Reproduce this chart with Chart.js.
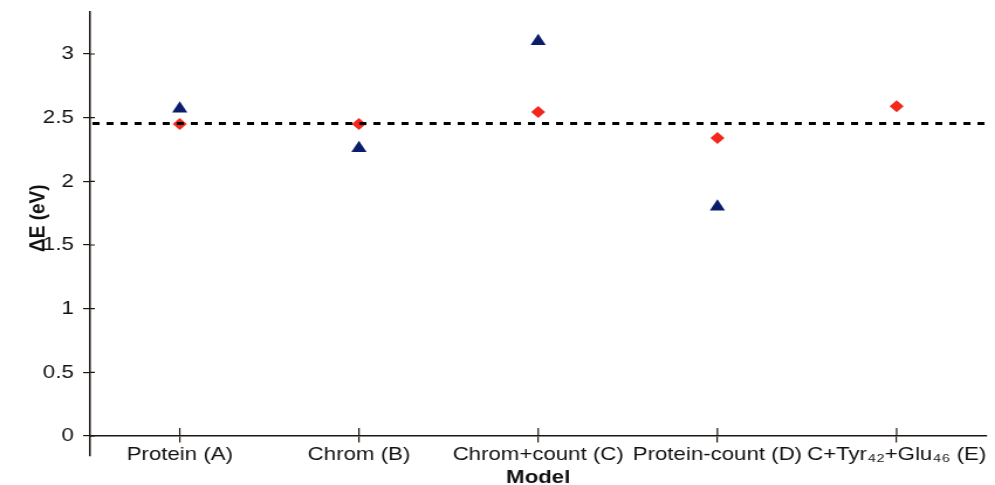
<!DOCTYPE html>
<html>
<head>
<meta charset="utf-8">
<script src="https://cdn.jsdelivr.net/npm/chart.js@4"></script>
<style>
    html, body { margin: 0; padding: 0; background: #fff; overflow: hidden; }
    /* the source figure is stretched sideways, so the canvas is too */
    #chart { display: block; transform: scaleX(1.1706); transform-origin: 0 0; }
</style>
</head>
<body>
<canvas id="chart" width="850" height="485"></canvas>
<script>
// Values
const models = ['Protein (A)', 'Chrom (B)', 'Chrom+count (C)', 'Protein-count (D)', 'C+Tyr\u2084\u2082+Glu\u2084\u2086 (E)'];
const triangleValues = [2.57, 2.26, 3.10, 1.80, null];
const diamondValues = [2.45, 2.45, 2.545, 2.34, 2.59];
const referenceLevel = 2.455;
const yTicks = [0, 0.5, 1, 1.5, 2, 2.5, 3];

const axisColor = '#1e1612';
const textColor = '#111';
Chart.defaults.font.family = '"Liberation Sans", Arial, sans-serif';
Chart.defaults.color = textColor;

// Dashed horizontal reference level across the whole plot
const referenceLine = {
    id: 'referenceLine',
    afterDatasetsDraw(chart) {
        const { ctx, chartArea, scales } = chart;
        const y = scales.y.getPixelForValue(referenceLevel);
        ctx.save();
        ctx.strokeStyle = '#000';
        ctx.lineWidth = 3;
        ctx.setLineDash([6, 6]);
        ctx.beginPath();
        ctx.moveTo(chartArea.left + 2, y);
        ctx.lineTo(chartArea.right, y);
        ctx.stroke();
        ctx.restore();
    }
};

// Tick marks in the figure cross the axis lines; draw the inner halves
const innerTicks = {
    id: 'innerTicks',
    afterDraw(chart) {
        const { ctx, chartArea, scales: { x, y } } = chart;
        const zero = y.getPixelForValue(0);
        ctx.save();
        ctx.strokeStyle = axisColor;
        ctx.lineWidth = 1.2;
        ctx.beginPath();
        models.forEach((m, i) => {
            const px = x.getPixelForTick(i);
            ctx.moveTo(px, zero);
            ctx.lineTo(px, zero - 8);
        });
        yTicks.forEach(v => {
            const py = y.getPixelForValue(v);
            ctx.moveTo(chartArea.left, py);
            ctx.lineTo(chartArea.left + 4, py);
        });
        ctx.stroke();
        ctx.restore();
    }
};

new Chart(document.getElementById('chart'), {
    type: 'line',
    data: {
        labels: models,
        datasets: [
            {
                label: 'triangles',
                data: triangleValues,
                showLine: false,
                pointStyle: 'triangle',
                pointRadius: 7.5,
                pointBorderWidth: 0,
                backgroundColor: '#0c1c6c',
                borderColor: '#0c1c6c'
            },
            {
                label: 'diamonds',
                data: diamondValues,
                showLine: false,
                pointStyle: 'rectRot',
                pointRadius: 6,
                pointBorderWidth: 0,
                backgroundColor: '#f2281c',
                borderColor: '#f2281c'
            }
        ]
    },
    options: {
        responsive: false,
        animation: false,
        layout: { padding: { left: 21, top: 12, right: 0, bottom: 29 } },
        plugins: {
            legend: { display: false },
            tooltip: { enabled: false }
        },
        scales: {
            x: {
                type: 'category',
                offset: true,
                position: { y: 0 },
                grid: { offset: false, drawOnChartArea: false, tickLength: 6, color: axisColor, lineWidth: 1.2 },
                border: { color: axisColor, width: 1.5 },
                ticks: { padding: 1, autoSkip: false, maxRotation: 0, font: { size: 19 }, color: textColor },
                title: { display: true, text: 'Model', padding: 0, font: { size: 19, weight: 'bold' }, color: textColor }
            },
            y: {
                min: -0.157,
                max: 3.33,
                afterBuildTicks: scale => { scale.ticks = yTicks.map(v => ({ value: v })); },
                afterFit: scale => {
                    scale.width = 56;
                    scale.paddingTop = 0;
                    scale.paddingBottom = 0;
                },
                grid: { drawOnChartArea: false, tickLength: 6, color: axisColor, lineWidth: 1.2 },
                border: { color: axisColor, width: 1.5 },
                ticks: { padding: 8, font: { size: 19 }, color: textColor, callback: v => String(v) },
                // leading spaces lift the rotated title a little above the axis middle
                title: { display: true, text: '      \u0394E (eV)', padding: 0, font: { size: 19, weight: 'bold' }, color: textColor }
            }
        }
    },
    plugins: [referenceLine, innerTicks]
});
</script>
</body>
</html>
